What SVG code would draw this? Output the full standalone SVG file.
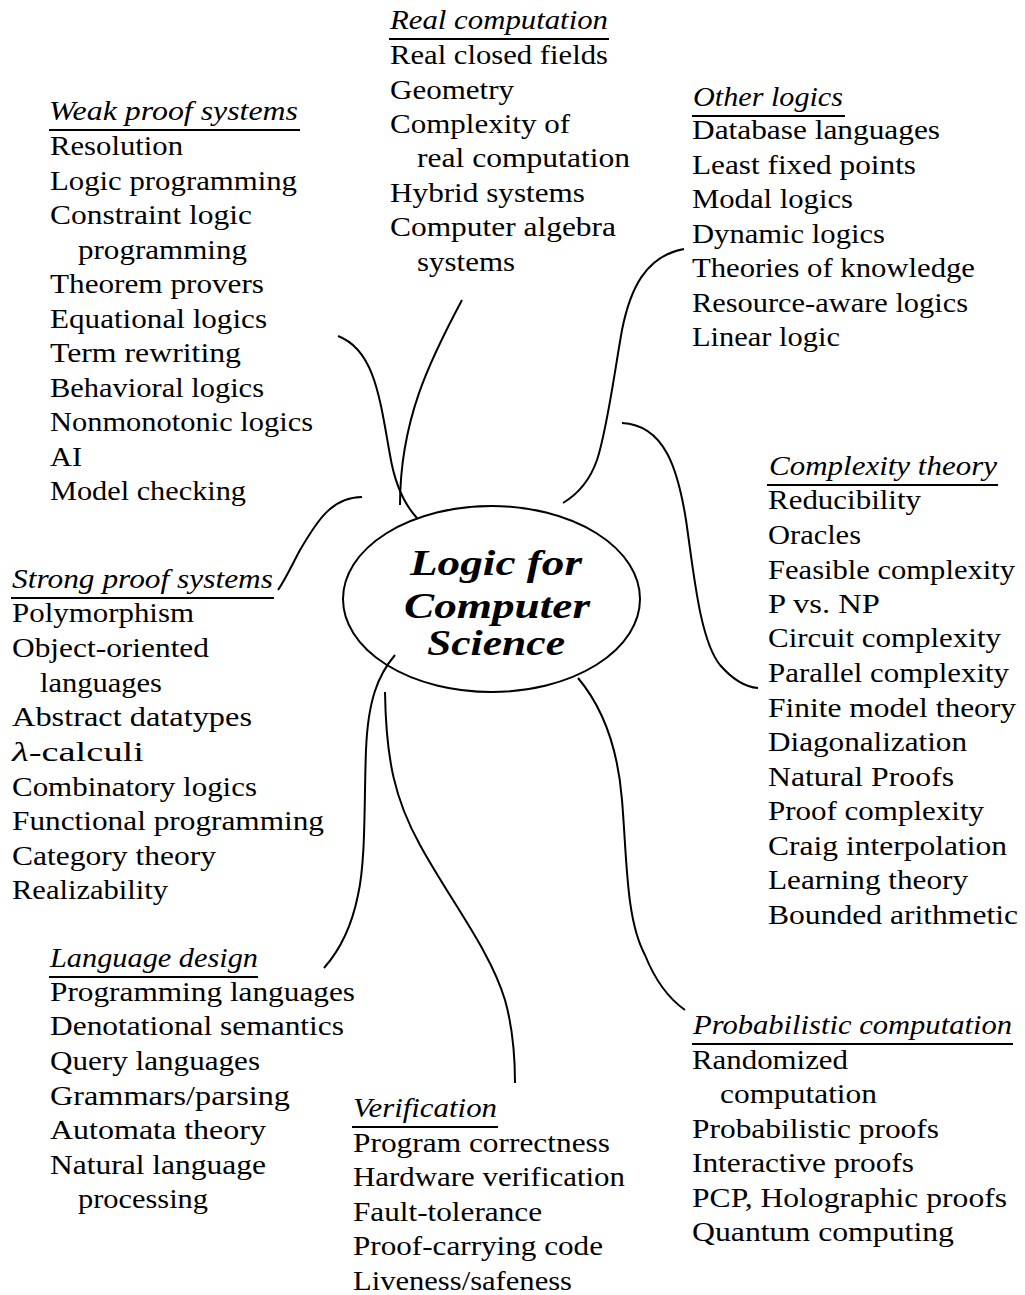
<svg xmlns="http://www.w3.org/2000/svg" width="1025" height="1295" viewBox="0 0 1025 1295">
<style>
.it{font-size:28px;fill:#000}
.hd{font-style:italic;font-size:28px;fill:#000}
.ul{stroke:#000;stroke-width:2}
.cn{fill:none;stroke:#000;stroke-width:2}
.ttl{font-weight:bold;font-style:italic;font-size:36px;fill:#000}
</style>
<rect width="1025" height="1295" fill="#fff"/>
<g id="connectors">
<path class="cn" d="M338,336 C375,350 380,400 390,455 C395,485 405,505 417,518"/>
<path class="cn" d="M462,300 C430,360 400,420 400,505"/>
<path class="cn" d="M362,497 C330,497 315,525 300,550 C292,565 285,580 278,590"/>
<path class="cn" d="M684,249 C645,256 630,290 622,330 C614,375 607,430 597,460 C590,480 578,494 563,503"/>
<path class="cn" d="M622,423 C665,425 678,470 686,520 C694,575 700,640 720,665 C733,680 745,687 758,688"/>
<path class="cn" d="M395,655 C378,675 368,700 366,750 C364,800 366,860 358,895 C352,925 340,950 324,968"/>
<path class="cn" d="M385,692 C386,760 395,800 420,845 C450,900 490,950 505,1000 C512,1025 515,1050 515,1083"/>
<path class="cn" d="M578,678 C605,710 618,750 622,800 C627,860 626,920 645,955 C655,980 668,998 685,1010"/>
</g>
<g font-family="Liberation Serif, DejaVu Serif, serif">
<g id="center">
<ellipse cx="491.5" cy="599" rx="148.5" ry="93" fill="none" stroke="#000" stroke-width="2"/>
<text class="ttl" x="410" y="575" textLength="172" lengthAdjust="spacingAndGlyphs">Logic for</text>
<text class="ttl" x="404" y="618" textLength="186" lengthAdjust="spacingAndGlyphs">Computer</text>
<text class="ttl" x="427" y="655" textLength="138" lengthAdjust="spacingAndGlyphs">Science</text>
</g>
<g id="weak-proof-systems">
<text class="hd" x="49" y="120" textLength="249" lengthAdjust="spacingAndGlyphs">Weak proof systems</text>
<line class="ul" x1="49" y1="130" x2="300" y2="130"/>
<text class="it" x="50" y="155" textLength="133" lengthAdjust="spacingAndGlyphs">Resolution</text>
<text class="it" x="50" y="189.5" textLength="247" lengthAdjust="spacingAndGlyphs">Logic programming</text>
<text class="it" x="50" y="224" textLength="202" lengthAdjust="spacingAndGlyphs">Constraint logic</text>
<text class="it" x="78" y="258.5" textLength="169" lengthAdjust="spacingAndGlyphs">programming</text>
<text class="it" x="50" y="293" textLength="214" lengthAdjust="spacingAndGlyphs">Theorem provers</text>
<text class="it" x="50" y="327.5" textLength="217" lengthAdjust="spacingAndGlyphs">Equational logics</text>
<text class="it" x="50" y="362" textLength="191" lengthAdjust="spacingAndGlyphs">Term rewriting</text>
<text class="it" x="50" y="396.5" textLength="214" lengthAdjust="spacingAndGlyphs">Behavioral logics</text>
<text class="it" x="50" y="431" textLength="263" lengthAdjust="spacingAndGlyphs">Nonmonotonic logics</text>
<text class="it" x="50" y="465.5" textLength="32" lengthAdjust="spacingAndGlyphs">AI</text>
<text class="it" x="50" y="500" textLength="196" lengthAdjust="spacingAndGlyphs">Model checking</text>
</g>
<g id="real-computation">
<text class="hd" x="390" y="29" textLength="218" lengthAdjust="spacingAndGlyphs">Real computation</text>
<line class="ul" x1="389" y1="39" x2="609" y2="39"/>
<text class="it" x="390" y="64" textLength="218" lengthAdjust="spacingAndGlyphs">Real closed fields</text>
<text class="it" x="390" y="99" textLength="124" lengthAdjust="spacingAndGlyphs">Geometry</text>
<text class="it" x="390" y="133" textLength="180" lengthAdjust="spacingAndGlyphs">Complexity of</text>
<text class="it" x="417" y="167" textLength="213" lengthAdjust="spacingAndGlyphs">real computation</text>
<text class="it" x="390" y="202" textLength="195" lengthAdjust="spacingAndGlyphs">Hybrid systems</text>
<text class="it" x="390" y="236" textLength="226" lengthAdjust="spacingAndGlyphs">Computer algebra</text>
<text class="it" x="417" y="271" textLength="98" lengthAdjust="spacingAndGlyphs">systems</text>
</g>
<g id="other-logics">
<text class="hd" x="693" y="106" textLength="150" lengthAdjust="spacingAndGlyphs">Other logics</text>
<line class="ul" x1="692" y1="116" x2="845" y2="116"/>
<text class="it" x="692" y="139" textLength="248" lengthAdjust="spacingAndGlyphs">Database languages</text>
<text class="it" x="692" y="174" textLength="224" lengthAdjust="spacingAndGlyphs">Least fixed points</text>
<text class="it" x="692" y="208" textLength="161" lengthAdjust="spacingAndGlyphs">Modal logics</text>
<text class="it" x="692" y="243" textLength="193" lengthAdjust="spacingAndGlyphs">Dynamic logics</text>
<text class="it" x="692" y="277" textLength="283" lengthAdjust="spacingAndGlyphs">Theories of knowledge</text>
<text class="it" x="692" y="312" textLength="276" lengthAdjust="spacingAndGlyphs">Resource-aware logics</text>
<text class="it" x="692" y="346" textLength="148" lengthAdjust="spacingAndGlyphs">Linear logic</text>
</g>
<g id="complexity-theory">
<text class="hd" x="769" y="475" textLength="228" lengthAdjust="spacingAndGlyphs">Complexity theory</text>
<line class="ul" x1="767" y1="485" x2="998" y2="485"/>
<text class="it" x="768" y="509" textLength="153" lengthAdjust="spacingAndGlyphs">Reducibility</text>
<text class="it" x="768" y="544" textLength="93" lengthAdjust="spacingAndGlyphs">Oracles</text>
<text class="it" x="768" y="579" textLength="247" lengthAdjust="spacingAndGlyphs">Feasible complexity</text>
<text class="it" x="768" y="613" textLength="112" lengthAdjust="spacingAndGlyphs">P vs. NP</text>
<text class="it" x="768" y="647" textLength="233" lengthAdjust="spacingAndGlyphs">Circuit complexity</text>
<text class="it" x="768" y="682" textLength="241" lengthAdjust="spacingAndGlyphs">Parallel complexity</text>
<text class="it" x="768" y="717" textLength="248" lengthAdjust="spacingAndGlyphs">Finite model theory</text>
<text class="it" x="768" y="751" textLength="199" lengthAdjust="spacingAndGlyphs">Diagonalization</text>
<text class="it" x="768" y="786" textLength="186" lengthAdjust="spacingAndGlyphs">Natural Proofs</text>
<text class="it" x="768" y="820" textLength="216" lengthAdjust="spacingAndGlyphs">Proof complexity</text>
<text class="it" x="768" y="855" textLength="239" lengthAdjust="spacingAndGlyphs">Craig interpolation</text>
<text class="it" x="768" y="889" textLength="200" lengthAdjust="spacingAndGlyphs">Learning theory</text>
<text class="it" x="768" y="924" textLength="250" lengthAdjust="spacingAndGlyphs">Bounded arithmetic</text>
</g>
<g id="strong-proof-systems">
<text class="hd" x="12" y="588" textLength="261" lengthAdjust="spacingAndGlyphs">Strong proof systems</text>
<line class="ul" x1="11" y1="598" x2="274" y2="598"/>
<text class="it" x="12" y="622" textLength="182" lengthAdjust="spacingAndGlyphs">Polymorphism</text>
<text class="it" x="12" y="657" textLength="197" lengthAdjust="spacingAndGlyphs">Object-oriented</text>
<text class="it" x="40" y="692" textLength="122" lengthAdjust="spacingAndGlyphs">languages</text>
<text class="it" x="12" y="726" textLength="240" lengthAdjust="spacingAndGlyphs">Abstract datatypes</text>
<text class="it" x="12" y="761" textLength="132" lengthAdjust="spacingAndGlyphs"><tspan font-style="italic">λ</tspan>-calculi</text>
<text class="it" x="12" y="796" textLength="245" lengthAdjust="spacingAndGlyphs">Combinatory logics</text>
<text class="it" x="12" y="830" textLength="312" lengthAdjust="spacingAndGlyphs">Functional programming</text>
<text class="it" x="12" y="865" textLength="204" lengthAdjust="spacingAndGlyphs">Category theory</text>
<text class="it" x="12" y="899" textLength="156" lengthAdjust="spacingAndGlyphs">Realizability</text>
</g>
<g id="language-design">
<text class="hd" x="50" y="967" textLength="208" lengthAdjust="spacingAndGlyphs">Language design</text>
<line class="ul" x1="49" y1="977" x2="258" y2="977"/>
<text class="it" x="50" y="1001" textLength="305" lengthAdjust="spacingAndGlyphs">Programming languages</text>
<text class="it" x="50" y="1035" textLength="294" lengthAdjust="spacingAndGlyphs">Denotational semantics</text>
<text class="it" x="50" y="1070" textLength="210" lengthAdjust="spacingAndGlyphs">Query languages</text>
<text class="it" x="50" y="1105" textLength="240" lengthAdjust="spacingAndGlyphs">Grammars/parsing</text>
<text class="it" x="50" y="1139" textLength="216" lengthAdjust="spacingAndGlyphs">Automata theory</text>
<text class="it" x="50" y="1174" textLength="216" lengthAdjust="spacingAndGlyphs">Natural language</text>
<text class="it" x="78" y="1208" textLength="130" lengthAdjust="spacingAndGlyphs">processing</text>
</g>
<g id="verification">
<text class="hd" x="353" y="1117" textLength="144" lengthAdjust="spacingAndGlyphs">Verification</text>
<line class="ul" x1="352" y1="1127" x2="498" y2="1127"/>
<text class="it" x="353" y="1152" textLength="257" lengthAdjust="spacingAndGlyphs">Program correctness</text>
<text class="it" x="353" y="1186" textLength="272" lengthAdjust="spacingAndGlyphs">Hardware verification</text>
<text class="it" x="353" y="1221" textLength="189" lengthAdjust="spacingAndGlyphs">Fault-tolerance</text>
<text class="it" x="353" y="1255" textLength="250" lengthAdjust="spacingAndGlyphs">Proof-carrying code</text>
<text class="it" x="353" y="1290" textLength="219" lengthAdjust="spacingAndGlyphs">Liveness/safeness</text>
</g>
<g id="probabilistic-computation">
<text class="hd" x="693" y="1034" textLength="319" lengthAdjust="spacingAndGlyphs">Probabilistic computation</text>
<line class="ul" x1="692" y1="1044" x2="1013" y2="1044"/>
<text class="it" x="692" y="1069" textLength="156" lengthAdjust="spacingAndGlyphs">Randomized</text>
<text class="it" x="720" y="1103" textLength="157" lengthAdjust="spacingAndGlyphs">computation</text>
<text class="it" x="692" y="1138" textLength="247" lengthAdjust="spacingAndGlyphs">Probabilistic proofs</text>
<text class="it" x="692" y="1172" textLength="222" lengthAdjust="spacingAndGlyphs">Interactive proofs</text>
<text class="it" x="692" y="1207" textLength="315" lengthAdjust="spacingAndGlyphs">PCP, Holographic proofs</text>
<text class="it" x="692" y="1241" textLength="262" lengthAdjust="spacingAndGlyphs">Quantum computing</text>
</g>
</g>
</svg>
